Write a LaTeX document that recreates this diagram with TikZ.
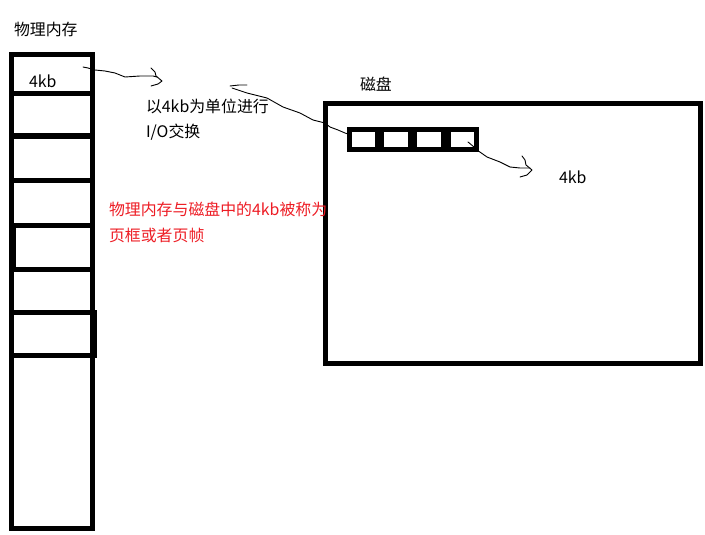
\documentclass[tikz,border=0pt]{standalone}
\usepackage{fontspec}
\setmainfont{Noto Sans CJK SC}
\definecolor{paintred}{RGB}{237,28,36}
\tikzset{
  thick box/.style={draw=black, line width=5pt},
  squiggle/.style={draw=black, line width=0.9pt, line join=round, line cap=round},
  lbl/.style={anchor=base west, inner sep=0pt, outer sep=0pt, font=\fontsize{15.9}{18}\selectfont},
  redlbl/.style={lbl, text=paintred},
}
\begin{document}
\begin{tikzpicture}[x=1pt, y=-1pt]
\useasboundingbox (0,0) rectangle (705,535);
% physical memory column
\draw[thick box] (11.5,54.5) rectangle (92.5,528);
\foreach \yy in {94,136,180.5,225,269.5,312.5,355.5}
  \draw[black, line width=5pt] (11.5,\yy) -- (92.5,\yy);
\fill[black] (13,225) rectangle (16,270);
\fill[black] (92,310) rectangle (97,358);
\coordinate (memcell) at (83,67);
% disk
\draw[thick box] (325.5,103.5) rectangle (700,363.5);
\fill[black] (347,127) rectangle (479,152);
\fill[white] (352,132) rectangle (375,147);
\fill[white] (384,132) rectangle (408,147);
\fill[white] (417,132) rectangle (441,147);
\fill[white] (451,132) rectangle (474,147);
\coordinate (stripleft) at (348,134);
\coordinate (stripcell) at (468,142);
% labels
\node[lbl] (memtitle) at (14,36) {物理内存};
\node[lbl] (memkb) at (29,88) {4kb};
\node[lbl] (io1) at (146,113) {以4kb为单位进行};
\node[lbl] (io2) at (146,138) {I/O交换};
\node[lbl] (disktitle) at (360,91) {磁盘};
\node[lbl] (diskkb) at (559,183) {4kb};
\node[redlbl] (red1) at (109,215) {物理内存与磁盘中的4kb被称为};
\node[redlbl] (red2) at (109,241) {页框或者页帧};
% squiggles
\draw[squiggle] (memcell) -- (88,68) -- (95,70) -- (105,71) -- (115,73) -- (125,77) -- (140,76) -- (153,76) -- (157,77);
\draw[squiggle] (151,68) -- (155,72) -- (156,76) -- (162,81) -- (158,84) -- (151,86);
\draw[squiggle] (stripleft) -- (345,133) -- (338,130) -- (330,127) -- (325,123) -- (313,120) -- (300,113) -- (283,107) -- (267,98) -- (247,93) -- (232,88);
\draw[squiggle] (230,86) -- (239,85) -- (247,85);
\draw[squiggle] (stripcell) -- (474,147) -- (477,150) -- (487,157) -- (500,162) -- (510,167) -- (520,168) -- (530,168);
\draw[squiggle] (522,156) -- (525,160) -- (526,165) -- (532,170) -- (527,175) -- (520,177);
\end{tikzpicture}
\end{document}
